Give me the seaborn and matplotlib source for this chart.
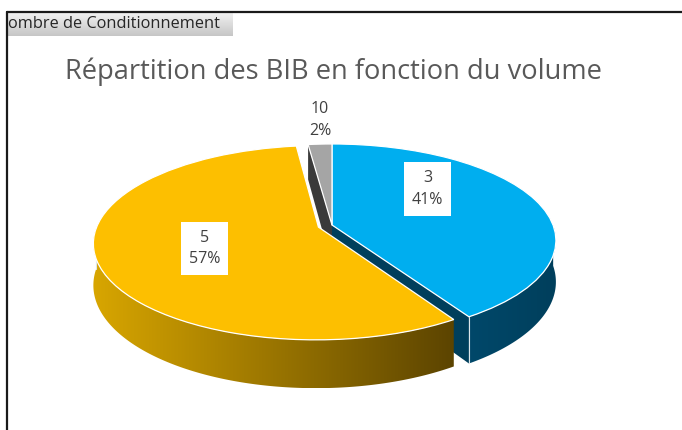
import numpy as np
import matplotlib
matplotlib.use("Agg")
import matplotlib.pyplot as plt
import matplotlib.transforms as mtransforms
from matplotlib.patches import Polygon
from matplotlib.colors import LinearSegmentedColormap
from matplotlib.lines import Line2D
import seaborn as sns

sns.set_style("white")
plt.rcParams['font.family'] = ['Open Sans', 'DejaVu Sans']

# data
volumes = ["3", "5", "10"]
shares = [41, 57, 2]

# style
explode = [0.0, 0.065, 0.0]
top_colors = ["#00AEEF", "#FDBF00", "#A5A5A5"]
wall_light = ["#00486A", "#D8A600", "#6E6E6E"]
wall_dark = ["#003F5C", "#5C4400", "#3A3A3A"]
label_radius = [0.615, 0.54, 1.36]
label_turn = [25.4, 3.9, -0.8]
label_box = [True, True, False]

# pixel layout of the fake 3d pie
CX, CY = 332, 225
SX, SY = 221, 94
K = 0.16
DEPTH = 0.43


class Perspective(mtransforms.Transform):
    input_dims = output_dims = 2

    def transform_non_affine(self, values):
        values = np.asarray(values, dtype=float)
        u, v = values[:, 0], values[:, 1]
        d = 1 + K * v
        return np.column_stack([CX + SX * u / d, CY - SY * v / d])


def project(u, v, z=0.0):
    d = 1 + K * np.asarray(v)
    return CX + SX * np.asarray(u) / d, CY - SY * (np.asarray(v) + z) / d


def gradient_fill(ax, xs, ys, c1, c2, zorder):
    poly = Polygon(np.column_stack([xs, ys]), closed=True, fc="none", ec="none",
                   transform=ax.transData)
    ax.add_patch(poly)
    cmap = LinearSegmentedColormap.from_list("g", [c1, c2])
    img = ax.imshow(np.linspace(0, 1, 256)[None, :], cmap=cmap, aspect="auto",
                    extent=(xs.min(), xs.max(), ys.max(), ys.min()),
                    zorder=zorder, interpolation="bilinear")
    img.set_clip_path(poly)


fig = plt.figure(figsize=(6.82, 4.30), dpi=100)
ax = fig.add_axes([0, 0, 1, 1])

wedges, _ = ax.pie(shares, explode=explode, colors=top_colors, startangle=90,
                   counterclock=False,
                   wedgeprops=dict(edgecolor="white", linewidth=0.9))
persp = Perspective()
for w in wedges:
    w.set_transform(persp + ax.transData)
    w.set_zorder(4)

ax.set_aspect("auto")
ax.set_xlim(0, 682)
ax.set_ylim(430, 0)
ax.axis("off")

cam = np.array([0.0, -1.0 / K])
for i, w in enumerate(wedges):
    cu, cv = w.center
    r = w.r
    # radial cut faces that look towards the viewer
    for phi, sgn in ((w.theta1, 1), (w.theta2, -1)):
        p = np.radians(phi)
        normal = np.array([sgn * np.sin(p), -sgn * np.cos(p)])
        mid = np.array([cu + 0.5 * r * np.cos(p), cv + 0.5 * r * np.sin(p)])
        if normal @ (cam - mid) > 0.05:
            uu = np.array([cu, cu + r * np.cos(p), cu + r * np.cos(p), cu])
            vv = np.array([cv, cv + r * np.sin(p), cv + r * np.sin(p), cv])
            zz = np.array([0, 0, -DEPTH, -DEPTH])
            px, py = project(uu, vv, zz)
            ax.add_patch(Polygon(np.column_stack([px, py]), closed=True,
                                 fc=wall_dark[i], ec="none", zorder=1))
    # outer wall on the front half
    t = np.radians(np.linspace(w.theta1, w.theta2, 400))
    t = t[np.sin(t) < 0]
    if len(t) > 1:
        uu = cu + r * np.cos(t)
        vv = cv + r * np.sin(t)
        x1, y1 = project(uu, vv, 0.0)
        x2, y2 = project(uu, vv, -DEPTH)
        xs = np.concatenate([x1, x2[::-1]])
        ys = np.concatenate([y1, y2[::-1]])
        gradient_fill(ax, xs, ys, wall_light[i], wall_dark[i], 2 + i * 0.1)
        ax.plot([x1[0], x2[0]], [y1[0], y2[0]], color="#DDE6EA", lw=0.8, zorder=2.5)

# data labels
for i, w in enumerate(wedges):
    cu, cv = w.center
    a = np.radians((w.theta1 + w.theta2) / 2 + label_turn[i])
    lx, ly = project(cu + label_radius[i] * np.cos(a), cv + label_radius[i] * np.sin(a))
    box = dict(boxstyle="square,pad=0.5", fc="white", ec="none") if label_box[i] else None
    ax.text(lx, ly, f"{volumes[i]}\n{shares[i]}%", ha="center", va="center",
            fontsize=11.5, color="#404040", linespacing=1.45, bbox=box, zorder=6)

ax.text(333, 72, "Répartition des BIB en fonction du volume", ha="center",
        va="center", fontsize=19.6, color="#595959", zorder=6)

# pivot field button and chart frame
btn = LinearSegmentedColormap.from_list("btn", ["#F2F2F2", "#C6C6C6"])
ax.imshow(np.linspace(0, 1, 64)[:, None], cmap=btn, aspect="auto",
          extent=(7, 233, 36, 12), zorder=5)
ax.text(8, 23.5, "ombre de Conditionnement", ha="left", va="center",
        fontsize=11.8, color="#262626", zorder=6)
ax.add_line(Line2D([7, 682], [12, 12], color="#1A1A1A", lw=1.6, zorder=7))
ax.add_line(Line2D([7, 7], [12, 430], color="#1A1A1A", lw=1.6, zorder=7))

fig.savefig("out.png", dpi=100)
